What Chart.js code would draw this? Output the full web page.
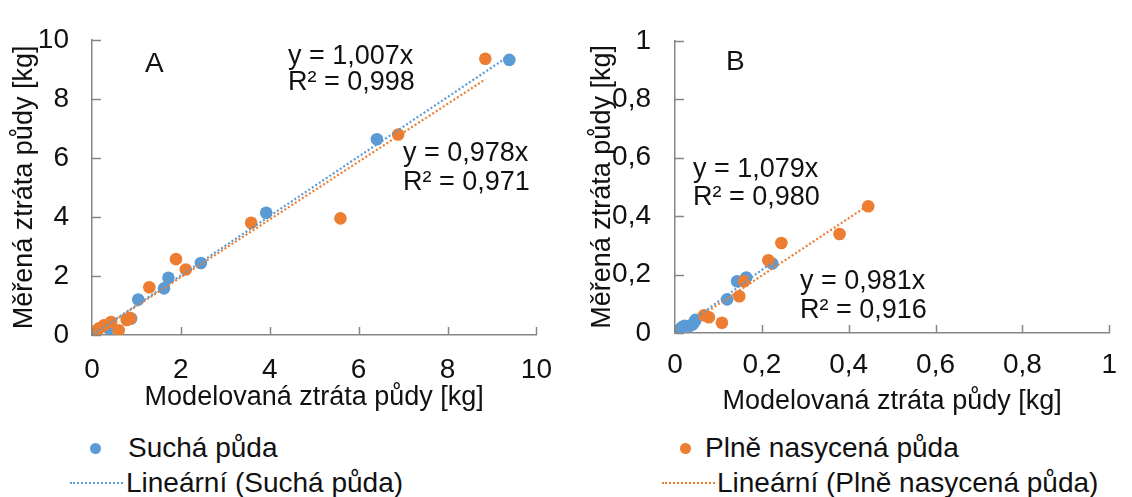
<!DOCTYPE html>
<html><head><meta charset="utf-8">
<script src="https://cdn.jsdelivr.net/npm/chart.js@4.4.1/dist/chart.umd.min.js"></script>
<style>
html,body{margin:0;padding:0;background:#fff;width:1132px;height:497px;overflow:hidden;font-family:"Liberation Sans",Arial,sans-serif;}
#wa{position:absolute;left:0;top:0;width:570px;height:420px;}
#wb{position:absolute;left:570px;top:0;width:562px;height:420px;}
.lt{position:absolute;font-size:28px;line-height:30px;color:#111;white-space:nowrap;}
.dot{position:absolute;width:11px;height:11px;border-radius:50%;}
.dl{position:absolute;width:53px;height:0;border-top:2px dotted;}
</style></head><body>
<div id="wa"><canvas id="ca" width="570" height="420"></canvas></div>
<div id="wb"><canvas id="cb" width="562" height="420"></canvas></div>
<div id="legend"></div>
<script>
// ---- labels ----
const seriesNames = ['Suchá půda', 'Plně nasycená půda'];
const trendNames = ['Lineární (Suchá půda)', 'Lineární (Plně nasycená půda)'];
const xTitle = 'Modelovaná ztráta půdy [kg]';
const yTitle = 'Měřená ztráta půdy [kg]';
const tickLabelsA = ['0', '2', '4', '6', '8', '10'];
const tickLabelsB = ['0', '0,2', '0,4', '0,6', '0,8', '1'];
const eqA = ['y = 1,007x', 'R² = 0,998', 'y = 0,978x', 'R² = 0,971'];
const eqB = ['y = 1,079x', 'R² = 0,980', 'y = 0,981x', 'R² = 0,916'];

// ---- panel A data ----
const aDryX = [0, 0.38, 0.88, 1.04, 1.62, 1.72, 2.45, 3.92, 6.41, 9.39];
const aDryY = [0, 0.22, 0.56, 1.20, 1.58, 1.94, 2.44, 4.14, 6.63, 9.32];
const aSatX = [0.05, 0.08, 0.11, 0.16, 0.27, 0.43, 0.60, 0.78, 0.86, 1.29, 1.89, 2.11, 3.58, 5.59, 6.89, 8.85];
const aSatY = [0.05, 0.11, 0.15, 0.23, 0.33, 0.44, 0.16, 0.51, 0.57, 1.62, 2.57, 2.22, 3.80, 3.95, 6.79, 9.36];
const aDryTrendX = [0, 9.39];
const aDryTrendY = [0, 9.46];
const aSatTrendX = [0.05, 8.85];
const aSatTrendY = [0.05, 8.66];

// ---- panel B data ----
const bDryX = [0.004, 0.015, 0.022, 0.034, 0.041, 0.045, 0.047, 0.120, 0.143, 0.164, 0.224];
const bDryY = [0.001, 0.019, 0.025, 0.025, 0.030, 0.039, 0.045, 0.115, 0.177, 0.190, 0.238];
const bSatX = [0.067, 0.078, 0.108, 0.148, 0.159, 0.215, 0.245, 0.379, 0.445];
const bSatY = [0.061, 0.054, 0.035, 0.126, 0.177, 0.249, 0.308, 0.339, 0.434];
const bDryTrendX = [0.004, 0.224];
const bDryTrendY = [0.004, 0.242];
const bSatTrendX = [0.067, 0.445];
const bSatTrendY = [0.066, 0.437];

const BLUE = '#5B9BD5', ORANGE = '#ED7D31', AXIS = '#868686', TXT = '#111';
const FONT = '"Liberation Sans", Arial, sans-serif';

const pts = (xs, ys) => xs.map((x, i) => ({x: x, y: ys[i]}));

const deco = {
  id: 'deco',
  afterDraw(chart, args, o) {
    const ctx = chart.ctx, xs = chart.scales.x, ys = chart.scales.y, ca = chart.chartArea;
    ctx.save();
    ctx.strokeStyle = AXIS; ctx.lineWidth = 1.5;
    xs.ticks.forEach(t => { const p = Math.round(xs.getPixelForValue(t.value)) + 0.5;
      ctx.beginPath(); ctx.moveTo(p, ca.bottom); ctx.lineTo(p, ca.bottom - 8); ctx.stroke(); });
    ys.ticks.forEach(t => { const p = Math.round(ys.getPixelForValue(t.value)) + 0.5;
      ctx.beginPath(); ctx.moveTo(ca.left, p); ctx.lineTo(ca.left + 9, p); ctx.stroke(); });
    ctx.fillStyle = TXT; ctx.textBaseline = 'alphabetic'; ctx.textAlign = 'left';
    o.texts.forEach(t => { ctx.font = t.size + 'px ' + FONT; ctx.fillText(t.t, t.x, t.y); });
    ctx.restore();
  }
};

function makeChart(id, cfg) {
  const W = cfg.W, H = 420;
  return new Chart(document.getElementById(id), {
    type: 'scatter',
    data: { datasets: [
      { label: trendNames[0], data: pts(cfg.dtx, cfg.dty), showLine: true, borderColor: BLUE, borderWidth: 2.2,
        borderDash: [2, 2.2], pointRadius: 0, order: 0 },
      { label: trendNames[1], data: pts(cfg.stx, cfg.sty), showLine: true, borderColor: ORANGE, borderWidth: 2.2,
        borderDash: [2, 2.2], pointRadius: 0, order: 1 },
      { label: seriesNames[1], data: pts(cfg.sx, cfg.sy), backgroundColor: ORANGE, borderColor: ORANGE,
        borderWidth: 0, pointRadius: 6.3, order: 2 },
      { label: seriesNames[0], data: pts(cfg.dx, cfg.dy), backgroundColor: BLUE, borderColor: BLUE,
        borderWidth: 0, pointRadius: 6.3, order: 3 }
    ]},
    options: {
      responsive: false, animation: false, devicePixelRatio: 1,
      layout: { padding: { left: 0, right: W - cfg.right, top: cfg.top, bottom: 0 } },
      plugins: { legend: { display: false }, tooltip: { enabled: false }, deco: { texts: cfg.texts } },
      scales: {
        x: { type: 'linear', min: 0, max: cfg.max, afterBuildTicks: s => { s.ticks = cfg.ticks.map(v => ({value: v})); },
          grid: { display: false, drawTicks: false }, border: { color: AXIS, width: 1.5 },
          ticks: { color: TXT, font: { family: FONT, size: 28 }, padding: cfg.xpad, maxRotation: 0,
            callback: (v, i) => cfg.labels[i] },
          title: { display: true, text: xTitle, color: TXT, font: { family: FONT, size: 27 }, padding: { top: 0, bottom: cfg.xtp } },
          afterFit: s => { s.height = H - cfg.bottom; } },
        y: { type: 'linear', min: 0, max: cfg.max, afterBuildTicks: s => { s.ticks = cfg.ticks.map(v => ({value: v})); },
          grid: { display: false, drawTicks: false }, border: { color: AXIS, width: 1.5 },
          ticks: { color: TXT, font: { family: FONT, size: 28 }, padding: cfg.ypad,
            callback: (v, i) => cfg.labels[i] },
          title: { display: true, text: yTitle, color: TXT, font: { family: FONT, size: 27 }, padding: { top: cfg.ytp, bottom: 0 } },
          afterFit: s => { s.width = cfg.left; } }
      }
    },
    plugins: [deco]
  });
}

const ticksA = [0, 2, 4, 6, 8, 10];
const ticksB = [0, 0.2, 0.4, 0.6, 0.8, 1];

makeChart('ca', { W: 570, left: 92, right: 543, top: 29, bottom: 335, max: 10, ticks: ticksA, labels: tickLabelsA,
  xpad: 18, ypad: 23, xtp: 6, ytp: 8,
  dx: aDryX, dy: aDryY, sx: aSatX, sy: aSatY, dtx: aDryTrendX, dty: aDryTrendY, stx: aSatTrendX, sty: aSatTrendY,
  texts: [ {t: 'A', x: 145, y: 72, size: 28},
    {t: eqA[0], x: 288, y: 64, size: 27}, {t: eqA[1], x: 288, y: 90, size: 27},
    {t: eqA[2], x: 403, y: 161, size: 27}, {t: eqA[3], x: 403, y: 190, size: 27} ] });

makeChart('cb', { W: 562, left: 105, right: 546, top: 24, bottom: 333, max: 1, ticks: ticksB, labels: tickLabelsB,
  xpad: 15, ypad: 24, xtp: 2, ytp: 16,
  dx: bDryX, dy: bDryY, sx: bSatX, sy: bSatY, dtx: bDryTrendX, dty: bDryTrendY, stx: bSatTrendX, sty: bSatTrendY,
  texts: [ {t: 'B', x: 156, y: 70, size: 28},
    {t: eqB[0], x: 123, y: 177, size: 27}, {t: eqB[1], x: 123, y: 205, size: 27},
    {t: eqB[2], x: 230, y: 289, size: 27}, {t: eqB[3], x: 230, y: 318, size: 27} ] });

// ---- legend ----
const leg = document.getElementById('legend');
const items = [
  {kind: 'dot', color: BLUE, mx: 90, tx: 128, cy: 448, text: seriesNames[0]},
  {kind: 'dot', color: ORANGE, mx: 680, tx: 705, cy: 448, text: seriesNames[1]},
  {kind: 'line', color: BLUE, mx: 70, tx: 126, cy: 483, text: trendNames[0]},
  {kind: 'line', color: ORANGE, mx: 662, tx: 717, cy: 483, text: trendNames[1]}
];
items.forEach(it => {
  const m = document.createElement('div');
  if (it.kind === 'dot') { m.className = 'dot'; m.style.left = it.mx + 'px'; m.style.top = (it.cy - 5.5) + 'px'; m.style.background = it.color; }
  else { m.className = 'dl'; m.style.left = it.mx + 'px'; m.style.top = (it.cy - 1) + 'px'; m.style.borderColor = it.color; }
  leg.appendChild(m);
  const t = document.createElement('div');
  t.className = 'lt'; t.textContent = it.text; t.style.left = it.tx + 'px'; t.style.top = (it.cy - 15) + 'px';
  leg.appendChild(t);
});
</script>
</body></html>
